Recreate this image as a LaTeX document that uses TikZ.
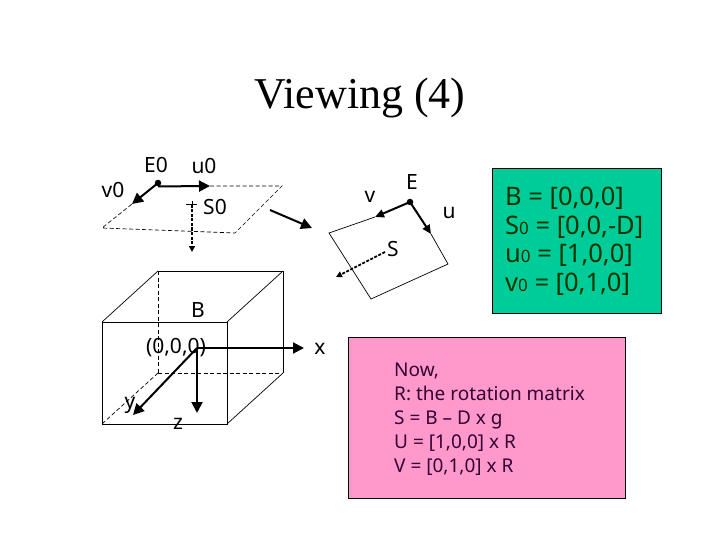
\documentclass[tikz,border=0pt]{standalone}
\usepackage{fontspec}
\setmainfont{Noto Sans}
\newfontfamily\titlefont{Liberation Serif}
\usetikzlibrary{arrows.meta,positioning,calc}
\definecolor{ink}{HTML}{000000}
\definecolor{notegreen}{HTML}{00CC99}
\definecolor{notepink}{HTML}{FF99CC}
\definecolor{notetext}{HTML}{003300}
\definecolor{nowtext}{HTML}{330033}
\newcommand{\sml}[1]{{\fontsize{17}{17}\selectfont #1}}
\tikzset{
  lbl/.style={font=\fontsize{21}{23}\selectfont,text=ink,inner sep=0pt},
  edgeline/.style={line width=0.7pt,color=ink},
  hidden/.style={line width=0.7pt,color=ink,dash pattern=on 4pt off 2.5pt},
  axis/.style={-{Stealth[length=11pt,width=11pt,inset=0pt]},line width=2pt,color=ink},
  axissmall/.style={-{Stealth[length=9pt,width=8pt,inset=0pt]},line width=2pt,color=ink},
  normalarrow/.style={-{Stealth[length=6pt,width=6pt,inset=0pt]},line width=1.8pt,color=ink,dash pattern=on 3pt off 1.5pt},
  eyedot/.style={circle,fill=ink,inner sep=0pt,minimum size=6.5pt},
  notebox/.style={draw=ink,line width=0.8pt,anchor=north west,inner sep=0pt}
}
\begin{document}
\begin{tikzpicture}[x=1pt,y=-1pt]
  \useasboundingbox (0,0) rectangle (720,540);
  \node[font=\titlefont\fontsize{44}{48}\selectfont,inner sep=0pt] (title) at (360,98) {Viewing (4)};
  % initial view plane
  \node[eyedot] (e0) at (158,183) {};
  \coordinate (u0end) at (210,186);
  \coordinate (v0end) at (132,204);
  \coordinate (p1) at (282,186);
  \coordinate (p2) at (235,233);
  \coordinate (p3) at (102,228);
  \draw[hidden] (u0end) -- (p1) -- (p2) -- (p3) -- (v0end);
  \draw[axis] (e0.south) -- (u0end);
  \draw[axis] (e0.center) -- (v0end);
  \coordinate (s0) at (192,205);
  \coordinate (s0end) at (192,252);
  \draw[line width=1pt] (186,205) -- (197,205);
  \draw[line width=1pt] (192,201) -- (192,208);
  \draw[normalarrow] (s0) -- (s0end);
  \node[lbl] (e0l) at (156,165) {E0};
  \node[lbl] (u0l) at (204,166) {u0};
  \node[lbl] (v0l) at (113,190) {v0};
  \node[lbl] (s0l) at (215,207) {S0};
  % rotation between the two planes
  \coordinate (rota) at (270,210);
  \coordinate (rotb) at (312,228);
  \draw[axis] (rota) -- (rotb);
  % rotated view plane
  \node[eyedot] (e1) at (410,202) {};
  \coordinate (uend) at (431,234);
  \coordinate (vend) at (375,217);
  \coordinate (q1) at (329,233);
  \coordinate (q2) at (371,299);
  \coordinate (q3) at (448,264);
  \draw[edgeline] (vend) -- (q1) -- (q2) -- (q3) -- (uend);
  \draw[axissmall] (e1.center) -- (uend);
  \draw[axissmall] (e1.center) -- (vend);
  \coordinate (s1) at (385,252);
  \coordinate (s1end) at (336,277);
  \draw[normalarrow] (s1) -- (s1end);
  \node[lbl] (el) at (412,182) {E};
  \node[lbl] (vl) at (370,197) {v};
  \node[lbl] (ul) at (449,213) {u};
  \node[lbl] (sl) at (393,249) {S};
  % cube, hidden edges first
  \coordinate (f1) at (102,322);
  \coordinate (f2) at (227,322);
  \coordinate (f3) at (227,424);
  \coordinate (f4) at (102,424);
  \coordinate (b1) at (158,271);
  \coordinate (b2) at (283,271);
  \coordinate (b3) at (283,373);
  \coordinate (b4) at (158,373);
  \draw[hidden] (b1) -- (b4);
  \draw[hidden] (b4) -- (b3);
  \draw[hidden] (b4) -- (f4);
  \draw[edgeline] (f1) rectangle (f3);
  \foreach \a/\b in {f1/b1,b1/b2,f2/b2,b2/b3,f3/b3}{\draw[edgeline] (\a) -- (\b);}
  % axes at the origin
  \node[lbl] (bl) at (198,310) {B};
  \node[lbl] (orig) at (176,348) {(0,0,0)};
  \coordinate (o) at (197,348);
  \coordinate (xend) at (304,348);
  \coordinate (yend) at (133,415);
  \coordinate (zend) at (197,413);
  \foreach \a in {xend,yend,zend}{\draw[axis] (o) -- (\a);}
  \node[lbl] (xl) at (320,349) {x};
  \node[lbl] (yl) at (130,405) {y};
  \node[lbl] (zl) at (178,424) {z};
  % notes
  \node[notebox,fill=notegreen,minimum width=169pt,minimum height=145pt] (green) at (492,168) {};
  \node[font=\fontsize{25.5}{28.5}\selectfont,text=notetext,align=left,inner sep=0pt,anchor=west] (greentxt) at (505,241.5) {B = [0,0,0]\\S\sml{0} = [0,0,-D]\\u\sml{0} = [1,0,0]\\v\sml{0} = [0,1,0]};
  \node[notebox,fill=notepink,minimum width=277pt,minimum height=161pt] (pink) at (348,337) {};
  \node[font=\fontsize{19}{24}\selectfont,text=nowtext,align=left,inner sep=0pt,anchor=west] (pinktxt) at (394,419) {Now,\\R: the rotation matrix\\S = B -- D x g\\U = [1,0,0] x R\\V = [0,1,0] x R};
\end{tikzpicture}
\end{document}
